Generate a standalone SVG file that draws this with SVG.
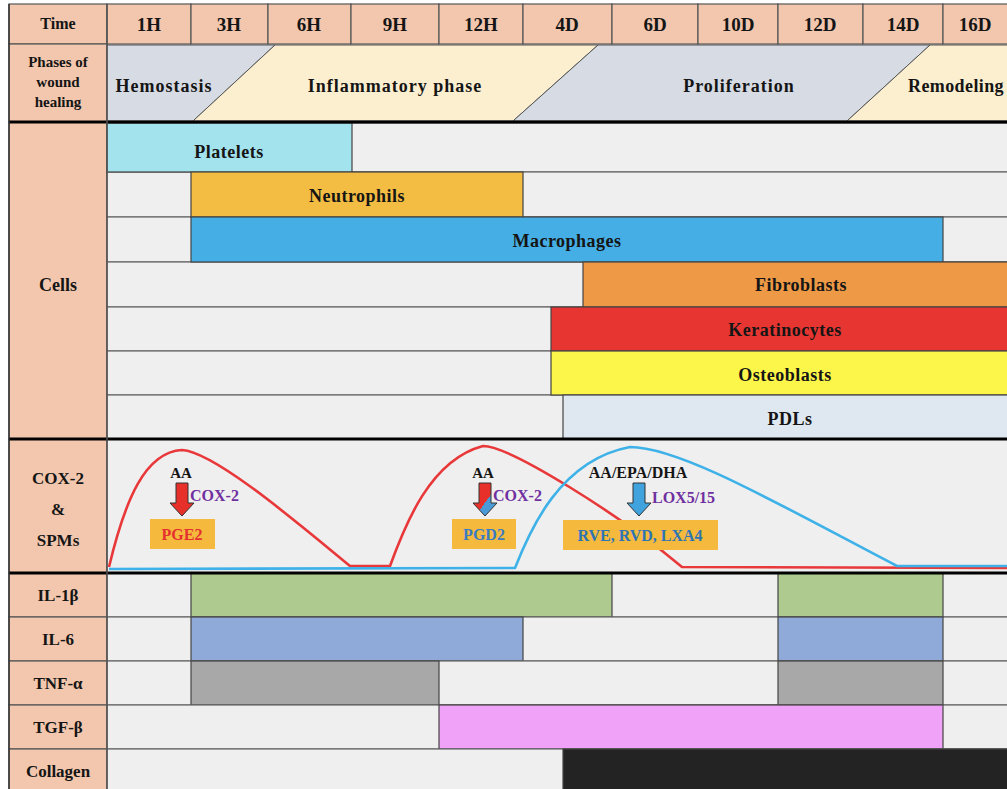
<svg xmlns="http://www.w3.org/2000/svg" width="1007" height="789" viewBox="0 0 1007 789">
<defs>
<style>
.hd{fill:#f2c7ae;stroke:#555;stroke-width:1.2}
.rw{fill:#efefef;stroke:#666;stroke-width:1.2}
.br{stroke:#444;stroke-width:1.2}
.tk{stroke:#000;stroke-width:3;fill:none}
.t{font-family:"Liberation Serif","Times New Roman",serif;font-weight:bold;fill:#151515;text-anchor:middle}
.h{font-size:19px}
.l{font-size:17px}
.c{font-size:18px;letter-spacing:0.5px}
.p{font-size:18px;letter-spacing:1px}
.s{font-size:16px}
.pu{fill:#7030a0;text-anchor:start}
.bx{fill:#f5b93d}
.ar{stroke:#333;stroke-width:1}
</style>
<linearGradient id="rb" x1="0" y1="0" x2="1" y2="1">
<stop offset="0" stop-color="#e8302a"/><stop offset="0.55" stop-color="#e8302a"/><stop offset="0.55" stop-color="#4a9ad8"/><stop offset="1" stop-color="#4a9ad8"/>
</linearGradient>
</defs>
<rect width="1007" height="789" fill="#ffffff"/>

<g id="header">
<rect class="hd" x="9" y="4" width="98" height="40"/><text class="t" x="58" y="29" font-size="16">Time</text>
<rect class="hd" x="107" y="4" width="84" height="40"/><text class="t h" x="149" y="31">1H</text>
<rect class="hd" x="191" y="4" width="77" height="40"/><text class="t h" x="229" y="31">3H</text>
<rect class="hd" x="268" y="4" width="83" height="40"/><text class="t h" x="309" y="31">6H</text>
<rect class="hd" x="351" y="4" width="88" height="40"/><text class="t h" x="395" y="31">9H</text>
<rect class="hd" x="439" y="4" width="84" height="40"/><text class="t h" x="481" y="31">12H</text>
<rect class="hd" x="523" y="4" width="89" height="40"/><text class="t h" x="567" y="31">4D</text>
<rect class="hd" x="612" y="4" width="86" height="40"/><text class="t h" x="655" y="31">6D</text>
<rect class="hd" x="698" y="4" width="80" height="40"/><text class="t h" x="738" y="31">10D</text>
<rect class="hd" x="778" y="4" width="85" height="40"/><text class="t h" x="820" y="31">12D</text>
<rect class="hd" x="863" y="4" width="80" height="40"/><text class="t h" x="903" y="31">14D</text>
<rect class="hd" x="943" y="4" width="66" height="40"/><text class="t h" x="975" y="31">16D</text>
</g>

<g id="phases">
<rect class="hd" x="9" y="44" width="98" height="78"/>
<text class="t" font-size="15" x="58" y="67">Phases of</text>
<text class="t" font-size="15" x="58" y="87">wound</text>
<text class="t" font-size="15" x="58" y="107">healing</text>
<polygon points="107,45 275,45 193,121 107,121" fill="#d6dbe4" stroke="#555" stroke-width="1"/>
<polygon points="275,45 598,45 513,121 193,121" fill="#fcefcf" stroke="#555" stroke-width="1"/>
<polygon points="598,45 930,45 847,121 513,121" fill="#d6dbe4" stroke="#555" stroke-width="1"/>
<polygon points="930,45 1009,45 1009,121 847,121" fill="#fcefcf" stroke="#555" stroke-width="1"/>
<text class="t p" x="164" y="92">Hemostasis</text>
<text class="t p" x="395" y="92">Inflammatory phase</text>
<text class="t p" x="739" y="92">Proliferation</text>
<text class="t" font-size="18" x="908" y="92" style="text-anchor:start;letter-spacing:0.4px">Remodeling</text>
</g>

<g id="cells">
<rect class="hd" x="9" y="122" width="98" height="317"/>
<text class="t" font-size="18" x="58" y="291">Cells</text>
<rect class="rw" x="107" y="123" width="902" height="49"/>
<rect class="rw" x="107" y="172" width="902" height="45"/>
<rect class="rw" x="107" y="217" width="902" height="45"/>
<rect class="rw" x="107" y="262" width="902" height="45"/>
<rect class="rw" x="107" y="307" width="902" height="44"/>
<rect class="rw" x="107" y="351" width="902" height="44"/>
<rect class="rw" x="107" y="395" width="902" height="44"/>
</g>
<g id="platelets"><rect class="br" x="107" y="123" width="245" height="49" fill="#a2e3ee"/><text class="t c" x="229" y="158">Platelets</text></g>
<g id="neutrophils"><rect class="br" x="191" y="172" width="332" height="45" fill="#f3bc42"/><text class="t c" x="357" y="202">Neutrophils</text></g>
<g id="macrophages"><rect class="br" x="191" y="217" width="752" height="45" fill="#45afe5"/><text class="t c" x="567" y="247">Macrophages</text></g>
<g id="fibroblasts"><rect class="br" x="583" y="262" width="426" height="45" fill="#ee9946"/><text class="t c" x="801" y="291">Fibroblasts</text></g>
<g id="keratinocytes"><rect class="br" x="551" y="307" width="458" height="44" fill="#e73531"/><text class="t c" x="785" y="336">Keratinocytes</text></g>
<g id="osteoblasts"><rect class="br" x="551" y="351" width="458" height="44" fill="#fdf64a"/><text class="t c" x="785" y="381">Osteoblasts</text></g>
<g id="pdls"><rect class="br" x="563" y="395" width="446" height="44" fill="#dfe8f1"/><text class="t c" x="790" y="425">PDLs</text></g>

<g id="cox">
<rect class="hd" x="9" y="439" width="98" height="134"/>
<text class="t l" x="58" y="484">COX-2</text>
<text class="t l" x="58" y="515">&amp;</text>
<text class="t l" x="58" y="546">SPMs</text>
<rect class="rw" x="107" y="439" width="902" height="134"/>
</g>

<g id="connectors" fill="none" stroke-width="2.6" stroke-linejoin="round">
<path d="M109,567 C125,500 145,452 182,450 C215,452 300,525 350,566 L390,566 C405,525 430,460 483,446 C510,446 620,515 682,567 L1009,568" stroke="#e8383a"/>
<path d="M109,569 L515,568 C530,530 560,460 630,447 C680,447 780,505 897,566 L1009,566" stroke="#3eb2e8"/>
</g>

<g id="pge2">
<text class="t" font-size="15" x="181" y="478">AA</text>
<polygon class="ar" points="176,483 188,483 188,503 194,503 182,516 170,503 176,503" fill="#e8302a"/>
<text class="t s pu" x="190" y="501">COX-2</text>
<rect class="bx" x="150" y="519" width="65" height="30"/>
<text class="t s" x="182" y="540" style="fill:#e53030">PGE2</text>
</g>
<g id="pgd2">
<text class="t" font-size="15" x="483" y="478">AA</text>
<polygon class="ar" points="479,483 491,483 491,503 497,503 485,516 473,503 479,503" fill="url(#rb)"/>
<text class="t s pu" x="493" y="501">COX-2</text>
<rect class="bx" x="452" y="519" width="64" height="30"/>
<text class="t s" x="484" y="540" style="fill:#3a7cc3">PGD2</text>
</g>
<g id="spms">
<text class="t s" x="638" y="478">AA/EPA/DHA</text>
<polygon class="ar" points="633,483 645,483 645,503 651,503 639,516 627,503 633,503" fill="#41a3de"/>
<text class="t s pu" x="652" y="503">LOX5/15</text>
<rect class="bx" x="563" y="520" width="155" height="30"/>
<text class="t s" x="640" y="541" style="fill:#2f75b5">RVE, RVD, LXA4</text>
</g>

<g id="il1b">
<rect class="hd" x="9" y="573" width="98" height="44"/><text class="t l" x="58" y="601">IL-1β</text>
<rect class="rw" x="107" y="573" width="902" height="44"/>
<rect class="br" x="191" y="573" width="421" height="44" fill="#afca8f"/>
<rect class="br" x="778" y="573" width="165" height="44" fill="#afca8f"/>
</g>
<g id="il6">
<rect class="hd" x="9" y="617" width="98" height="44"/><text class="t l" x="58" y="645">IL-6</text>
<rect class="rw" x="107" y="617" width="902" height="44"/>
<rect class="br" x="191" y="617" width="332" height="44" fill="#8faad8"/>
<rect class="br" x="778" y="617" width="165" height="44" fill="#8faad8"/>
</g>
<g id="tnfa">
<rect class="hd" x="9" y="661" width="98" height="44"/><text class="t l" x="58" y="689">TNF-α</text>
<rect class="rw" x="107" y="661" width="902" height="44"/>
<rect class="br" x="191" y="661" width="248" height="44" fill="#a8a8a8"/>
<rect class="br" x="778" y="661" width="165" height="44" fill="#a8a8a8"/>
</g>
<g id="tgfb">
<rect class="hd" x="9" y="705" width="98" height="44"/><text class="t l" x="58" y="733">TGF-β</text>
<rect class="rw" x="107" y="705" width="902" height="44"/>
<rect class="br" x="439" y="705" width="504" height="44" fill="#f0a1f8"/>
</g>
<g id="collagen">
<rect class="hd" x="9" y="749" width="98" height="45"/><text class="t l" x="58" y="777">Collagen</text>
<rect class="rw" x="107" y="749" width="902" height="45"/>
<rect class="br" x="563" y="749" width="446" height="45" fill="#232323"/>
</g>

<g id="dividers">
<line class="tk" x1="9" y1="122" x2="1009" y2="122"/>
<line class="tk" x1="9" y1="439" x2="1009" y2="439"/>
<line class="tk" x1="9" y1="573" x2="1009" y2="573"/>
<line x1="9" y1="4" x2="9" y2="789" stroke="#333" stroke-width="1.5"/>
<line x1="107" y1="4" x2="107" y2="789" stroke="#555" stroke-width="1.5"/>
</g>
</svg>
